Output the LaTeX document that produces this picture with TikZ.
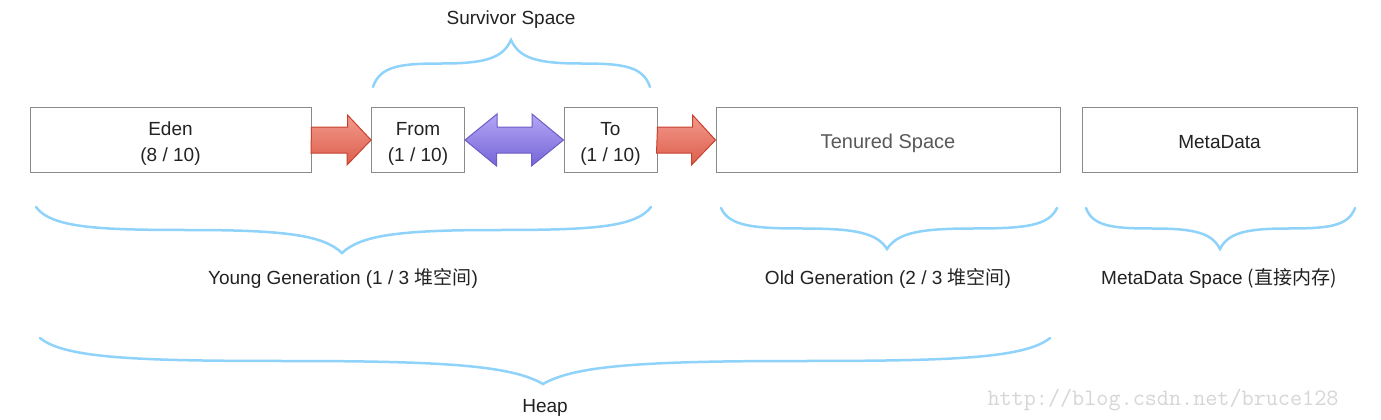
\documentclass[tikz,border=0pt]{standalone}
\usepackage{fontspec}
\setmainfont{Liberation Sans}
\newfontfamily\cjk{Noto Sans CJK SC}
\usetikzlibrary{calc}
\definecolor{boxline}{HTML}{8A8A8A}
\definecolor{txt}{HTML}{222222}
\definecolor{bracecol}{HTML}{8FD3FA}
\definecolor{redtop}{HTML}{F29A8C}
\definecolor{redbot}{HTML}{DD5E4C}
\definecolor{redline}{HTML}{C8402E}
\definecolor{purtop}{HTML}{B3A6F5}
\definecolor{purbot}{HTML}{7565D6}
\definecolor{purline}{HTML}{6E5CC8}
\definecolor{wm}{HTML}{D6D6D6}
\newcommand\dobrace[5]{%
 \pgfmathsetmacro\bA{#5-#1}%
 \pgfmathsetmacro\bB{#2-#5}%
 \pgfmathsetmacro\bh{#4-#3}%
 \draw[bracestyle] (#1,#3) .. controls ({#1+0.05*\bA},{#3+0.45*\bh}) and ({#1+0.2*\bA},{#3+0.5*\bh}) .. ({#1+0.5*\bA},{#3+0.5*\bh}) .. controls ({#1+0.82*\bA},{#3+0.5*\bh}) and ({#5-0.06*\bA},{#3+0.62*\bh}) .. (#5,#4) .. controls ({#5+0.06*\bB},{#3+0.62*\bh}) and ({#2-0.82*\bB},{#3+0.5*\bh}) .. ({#2-0.5*\bB},{#3+0.5*\bh}) .. controls ({#2-0.2*\bB},{#3+0.5*\bh}) and ({#2-0.05*\bB},{#3+0.45*\bh}) .. (#2,#3);
}
\tikzset{
 box/.style={draw=boxline, line width=1pt, fill=white, minimum height=65pt, inner sep=0pt},
 boxtext/.style={text=txt, align=center, inner sep=0pt, font=\fontsize{19}{26}\selectfont},
 redarrow/.style={draw=redline, line width=1pt, top color=redtop, bottom color=redbot, line join=miter},
 purarrow/.style={draw=purline, line width=1pt, top color=purtop, bottom color=purbot, line join=miter},
 bracestyle/.style={draw=bracecol, line width=2.5pt, line cap=round},
 lbl/.style={text=txt, font=\fontsize{19}{23}\selectfont, inner sep=0pt},
}
\begin{document}
\begin{tikzpicture}[x=1pt,y=-1pt]
\useasboundingbox[fill=white] (0,0) rectangle (1381,420);
% boxes
\node[box, minimum width=281pt] (eden) at (170.5,140) {};
\node[box, minimum width=93pt] (from) at (418,140) {};
\node[box, minimum width=93pt] (to) at (610.5,140) {};
\node[box, minimum width=344pt] (ten) at (888,140) {};
\node[box, minimum width=275pt] (meta) at (1219.5,140) {};
\node[boxtext] (edent) at ([yshift=-3.5pt]eden.center) {Eden\\(8 / 10)};
\node[boxtext] (fromt) at ([yshift=-3.5pt]from.center) {From\\(1 / 10)};
\node[boxtext] (tot) at ([yshift=-3.5pt]to.center) {To\\(1 / 10)};
\node[boxtext, text=black!65, font=\fontsize{20}{24}\selectfont] (tent) at ([yshift=-3pt]ten.center) {Tenured Space};
\node[boxtext] (metat) at ([yshift=-2pt]meta.center) {MetaData};
% arrows
\path[redarrow] (eden.east) ++(0,-13) -- ++(36,0) -- ++(0,-12) -- (from.west) -- ++(-24,25) -- ++(0,-12) -- ++(-36,0) -- cycle;
\path[purarrow] (from.east) -- ++(32,-26) -- ++(0,13) -- ++(35,0) -- ++(0,-13) -- (to.west) -- ++(-32,26) -- ++(0,-13) -- ++(-35,0) -- ++(0,13) -- cycle;
\path[redarrow] (to.east) ++(0,-13) -- ++(35,0) -- ++(0,-12) -- (ten.west) -- ++(-24,25) -- ++(0,-12) -- ++(-35,0) -- cycle;
% braces
\dobrace{373}{650}{87}{40}{511}
\dobrace{36}{651}{207}{253}{342}
\dobrace{721}{1057}{208}{249}{887}
\dobrace{1086}{1355}{208}{249}{1220}
\dobrace{40}{1050}{338}{384}{543}
% labels
\node[lbl] (surv) at (511,20) {Survivor Space};
\node[lbl] (young) at (343,278) {Young Generation (1 / 3 {\cjk 堆空间})};
\node[lbl] (old) at (888,278) {Old Generation (2 / 3 {\cjk 堆空间})};
\node[lbl] (mds) at (1219,278) {MetaData Space {\cjk (直接内存)}};
\node[lbl] (heap) at (545,408) {Heap};
\node[text=wm, font=\ttfamily\fontsize{23.5}{26}\selectfont, inner sep=0pt] (wmk) at (1163,400) {http://blog.csdn.net/bruce128};
\end{tikzpicture}
\end{document}
